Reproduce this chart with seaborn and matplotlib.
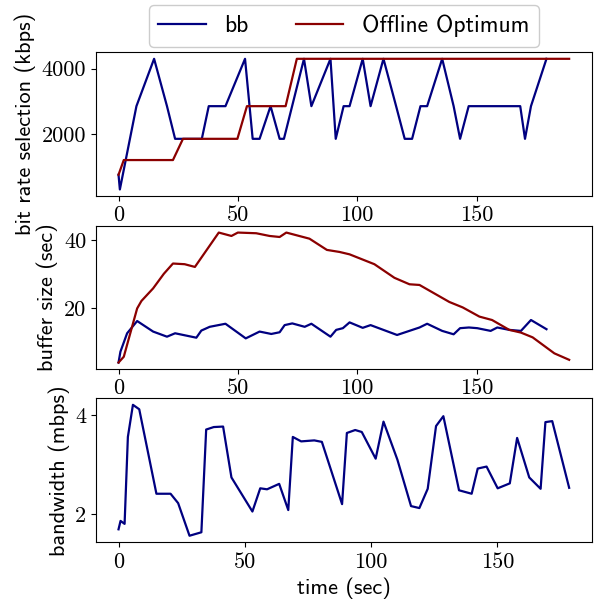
import matplotlib
matplotlib.use("Agg")
import matplotlib.pyplot as plt
import seaborn as sns

# bit rate selection (kbps)
bb_rate_t = [0, 0.56, 7.5, 14.9, 20.3, 23.7, 34.9, 37.8, 44.8, 53.0, 56.2, 59.1, 63.7, 67.5,
             69.3, 77.7, 80.8, 88.8, 91.0, 94.3, 96.8, 102.3, 105.6, 111.0, 116.3, 119.9, 123.0,
             126.5, 129.3, 135.6, 140.4, 143.1, 146.7, 168.3, 170.3, 172.8, 179.3]
bb_rate = [750, 300, 2850, 4300, 2850, 1850, 1850, 2850, 2850, 4300, 1850, 1850, 2850, 1850,
           1850, 4300, 2850, 4300, 1850, 2850, 2850, 4300, 2850, 4300, 2850, 1850, 1850,
           2850, 2850, 4300, 2850, 1850, 2850, 2850, 1850, 2850, 4300]
opt_rate_t = [0, 2.2, 22.8, 27.0, 49.8, 53.8, 70.0, 74.7, 188.8]
opt_rate = [750, 1200, 1200, 1850, 1850, 2850, 2850, 4300, 4300]

# buffer size (sec)
bb_buf_t = [0, 0.8, 3.6, 7.8, 14.5, 20.3, 23.7, 32.6, 34.7, 38.2, 44.8, 53.3, 59.1, 64.0,
            67.5, 69.6, 72.8, 78.0, 80.8, 88.8, 91.2, 94.0, 96.8, 102.3, 105.6, 116.7, 126.1,
            129.3, 135.6, 140.4, 143.1, 146.8, 150.3, 155.9, 158.7, 163.7, 168.6, 172.8, 179.3]
bb_buf = [4.1, 7.3, 12.7, 16.3, 13.2, 11.7, 12.7, 11.4, 13.5, 14.6, 15.5, 11.2, 13.2, 12.5,
          13.0, 15.1, 15.6, 14.6, 15.5, 11.7, 13.7, 14.2, 15.9, 14.3, 15.1, 12.2, 14.4,
          15.5, 13.4, 12.4, 14.2, 14.4, 14.2, 13.4, 14.4, 13.7, 13.4, 16.6, 13.9]
opt_buf_t = [0, 2.2, 7.8, 9.6, 14.5, 19.0, 22.8, 27.7, 32.0, 42.0, 47.3, 50.0, 57.7, 63.3,
             67.5, 70.3, 80.0, 87.3, 92.6, 96.8, 107.2, 115.6, 121.9, 126.1, 138.6, 144.2,
             151.2, 156.5, 163.7, 168.6, 173.5, 182.6, 188.8]
opt_buf = [4.1, 5.8, 20.0, 22.2, 25.9, 30.2, 33.2, 33.0, 32.2, 42.3, 41.3, 42.3, 42.1, 41.3,
           41.0, 42.3, 40.5, 37.2, 36.6, 35.9, 33.0, 29.0, 27.1, 26.9, 21.9, 20.3,
           17.6, 16.6, 13.7, 12.9, 11.5, 6.8, 4.9]

# bandwidth (mbps)
bw_t = [0, 0.8, 2.4, 3.7, 5.7, 8.2, 15.0, 20.6, 23.6, 28.1, 32.8, 34.7, 37.7, 41.4, 44.7,
        53.0, 56.1, 58.8, 63.6, 67.2, 69.0, 72.3, 77.5, 80.5, 88.5, 90.4, 93.7, 96.3, 101.8,
        104.9, 110.4, 115.8, 119.1, 122.4, 125.7, 128.6, 134.8, 139.8, 142.2, 145.7, 150.1,
        154.9, 157.8, 162.6, 167.1, 169.0, 171.7, 178.4]
bw = [1.69, 1.86, 1.80, 3.56, 4.21, 4.12, 2.41, 2.41, 2.22, 1.56, 1.63, 3.71, 3.76, 3.77, 2.74,
      2.05, 2.52, 2.50, 2.61, 2.08, 3.56, 3.47, 3.49, 3.46, 2.20, 3.64, 3.70, 3.66, 3.12,
      3.87, 3.10, 2.16, 2.12, 2.51, 3.78, 3.98, 2.48, 2.41, 2.92, 2.96, 2.52,
      2.62, 3.54, 2.74, 2.51, 3.86, 3.88, 2.53]

BB_COLOR = "navy"
OPT_COLOR = "darkred"
LW = 1.6

plt.rcParams["font.family"] = ["cmss10", "DejaVu Sans"]
plt.rcParams["axes.unicode_minus"] = False

fig = plt.figure(figsize=(5.97, 6.03), dpi=100)
ax1 = fig.add_axes([0.1608, 0.675, 0.8303, 0.2383])
ax2 = fig.add_axes([0.1608, 0.388, 0.8303, 0.2371])
ax3 = fig.add_axes([0.1608, 0.1007, 0.8303, 0.2388])

sns.lineplot(x=bb_rate_t, y=bb_rate, ax=ax1, color=BB_COLOR, lw=LW, label="bb")
sns.lineplot(x=opt_rate_t, y=opt_rate, ax=ax1, color=OPT_COLOR, lw=LW, label="Offline Optimum")
sns.lineplot(x=bb_buf_t, y=bb_buf, ax=ax2, color=BB_COLOR, lw=LW)
sns.lineplot(x=opt_buf_t, y=opt_buf, ax=ax2, color=OPT_COLOR, lw=LW)
sns.lineplot(x=bw_t, y=bw, ax=ax3, color=BB_COLOR, lw=LW)

handles, labels = ax1.get_legend_handles_labels()
if ax1.get_legend() is not None:
    ax1.get_legend().remove()

ax1.set_yticks([2000, 4000])
ax2.set_yticks([20, 40])
ax3.set_yticks([2, 4])
for ax in (ax1, ax2, ax3):
    ax.set_xticks([0, 50, 100, 150])
    ax.tick_params(labelsize=16, labelfontfamily="cmr10")
    for s in ax.spines.values():
        s.set_color("black")

ax1.set_ylabel("bit rate selection (kbps)", fontsize=16)
ax2.set_ylabel("buffer size (sec)", fontsize=16)
ax3.set_ylabel("bandwidth (mbps)", fontsize=16)
ax3.set_xlabel("time (sec)", fontsize=16)

fig.legend(handles, labels, loc="center", bbox_to_anchor=(0.576, 0.957), ncol=2,
           fontsize=17, framealpha=1)

fig.savefig("out.png", dpi=100)
